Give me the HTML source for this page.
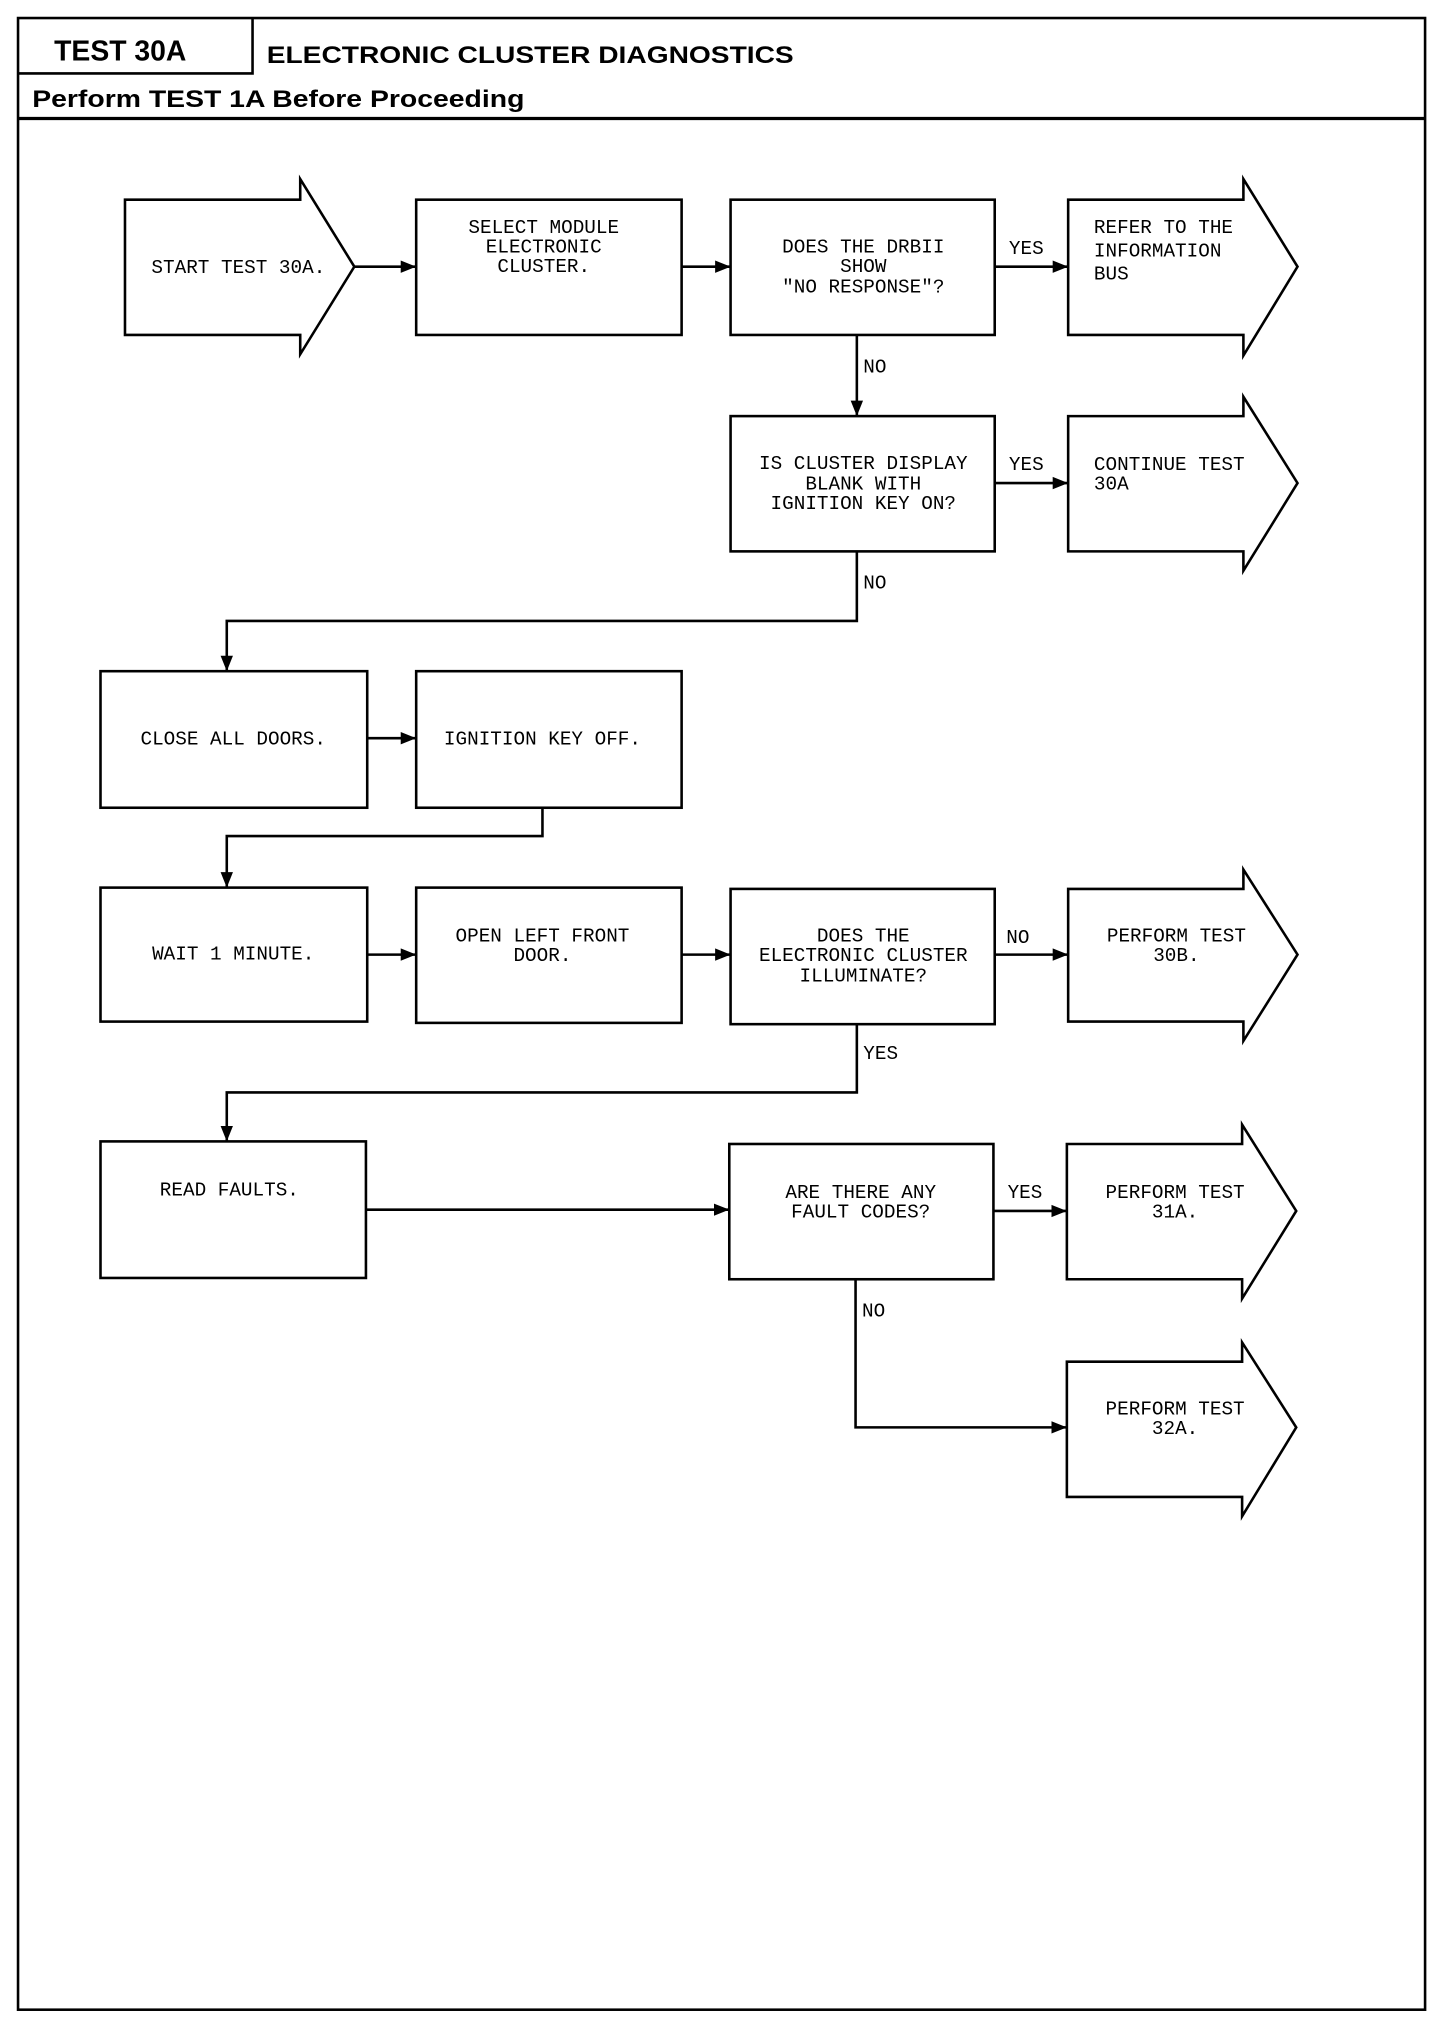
<!DOCTYPE html>
<html><head><meta charset="utf-8"><style>
html,body{margin:0;padding:0;background:#fff;}
svg{display:block;}
.t{font-family:"Liberation Mono",monospace;font-size:15px;fill:#000;}
.h{font-family:"Liberation Sans",sans-serif;font-weight:bold;fill:#000;}
</style></head><body>
<svg width="1456" height="2020" viewBox="0 0 1130 1568" preserveAspectRatio="none" xmlns="http://www.w3.org/2000/svg">
<defs><marker id="a" viewBox="0 0 10 10" refX="10" refY="5" markerWidth="6" markerHeight="6" orient="auto"><path d="M0,1 L10,5 L0,9 z" fill="#000"/></marker></defs>
<g fill="none" stroke="#000" stroke-width="2">
<rect x="14" y="14" width="1092" height="1546"/>
<path d="M14,57 H196 V14"/>
<path d="M14,92 H1106" stroke-width="2.5"/>
<path d="M97,155 H233 V139 L275,207 L233,275 V260 H97 Z"/>
<rect x="323" y="155" width="206" height="105"/>
<rect x="567" y="155" width="205" height="105"/>
<path d="M829,155 H965 V139 L1007,207 L965,276 V260 H829 Z"/>
<rect x="567" y="323" width="205" height="105"/>
<path d="M829,323 H965 V308 L1007,375 L965,443 V428 H829 Z"/>
<rect x="78" y="521" width="207" height="106"/>
<rect x="323" y="521" width="206" height="106"/>
<rect x="78" y="689" width="207" height="104"/>
<rect x="323" y="689" width="206" height="105"/>
<rect x="567" y="690" width="205" height="105"/>
<path d="M829,690 H965 V675 L1007,741 L965,808 V793 H829 Z"/>
<rect x="78" y="886" width="206" height="106"/>
<rect x="566" y="888" width="205" height="105"/>
<path d="M828,888 H964 V873 L1006,940 L964,1008 V993 H828 Z"/>
<path d="M828,1057 H964 V1042 L1006,1108 L964,1177 V1162 H828 Z"/>
<path d="M275,207 H323" marker-end="url(#a)"/>
<path d="M529,207 H567" marker-end="url(#a)"/>
<path d="M772,207 H829" marker-end="url(#a)"/>
<path d="M665,260 V323" marker-end="url(#a)"/>
<path d="M772,375 H829" marker-end="url(#a)"/>
<path d="M665,428 V482 H176 V521" marker-end="url(#a)"/>
<path d="M285,573 H323" marker-end="url(#a)"/>
<path d="M421,627 V649 H176 V689" marker-end="url(#a)"/>
<path d="M285,741 H323" marker-end="url(#a)"/>
<path d="M529,741 H567" marker-end="url(#a)"/>
<path d="M772,741 H829" marker-end="url(#a)"/>
<path d="M665,795 V848 H176 V886" marker-end="url(#a)"/>
<path d="M284,939 H566" marker-end="url(#a)"/>
<path d="M771,940 H828" marker-end="url(#a)"/>
<path d="M664,993 V1108 H828" marker-end="url(#a)"/>
</g>
<text class="h" x="42" y="47" font-size="22">TEST 30A</text>
<text class="h" x="207" y="49" font-size="19" textLength="409" lengthAdjust="spacingAndGlyphs">ELECTRONIC CLUSTER DIAGNOSTICS</text>
<text class="h" x="25" y="83" font-size="19" textLength="382" lengthAdjust="spacingAndGlyphs">Perform TEST 1A Before Proceeding</text>
<g class="t" text-anchor="middle">
<text x="185" y="212">START TEST 30A.</text>
<text x="422" y="181">SELECT MODULE</text>
<text x="422" y="196">ELECTRONIC</text>
<text x="422" y="211">CLUSTER.</text>
<text x="670" y="196">DOES THE DRBII</text>
<text x="670" y="211">SHOW</text>
<text x="670" y="227">"NO RESPONSE"?</text>
<text x="670" y="364">IS CLUSTER DISPLAY</text>
<text x="670" y="380">BLANK WITH</text>
<text x="670" y="395">IGNITION KEY ON?</text>
<text x="181" y="578">CLOSE ALL DOORS.</text>
<text x="421" y="578">IGNITION KEY OFF.</text>
<text x="181" y="745">WAIT 1 MINUTE.</text>
<text x="421" y="731">OPEN LEFT FRONT</text>
<text x="421" y="746">DOOR.</text>
<text x="670" y="731">DOES THE</text>
<text x="670" y="746">ELECTRONIC CLUSTER</text>
<text x="670" y="762">ILLUMINATE?</text>
<text x="913" y="731">PERFORM TEST</text>
<text x="913" y="746">30B.</text>
<text x="178" y="928">READ FAULTS.</text>
<text x="668" y="930">ARE THERE ANY</text>
<text x="668" y="945">FAULT CODES?</text>
<text x="912" y="930">PERFORM TEST</text>
<text x="912" y="945">31A.</text>
<text x="912" y="1098">PERFORM TEST</text>
<text x="912" y="1113">32A.</text>
</g>
<g class="t">
<text x="849" y="181">REFER TO THE</text>
<text x="849" y="199">INFORMATION</text>
<text x="849" y="217">BUS</text>
<text x="849" y="365">CONTINUE TEST</text>
<text x="849" y="380">30A</text>
<text x="783" y="197">YES</text>
<text x="783" y="365">YES</text>
<text x="670" y="289">NO</text>
<text x="670" y="457">NO</text>
<text x="781" y="732">NO</text>
<text x="670" y="822">YES</text>
<text x="782" y="930">YES</text>
<text x="669" y="1022">NO</text>
</g>
</svg>
</body></html>
